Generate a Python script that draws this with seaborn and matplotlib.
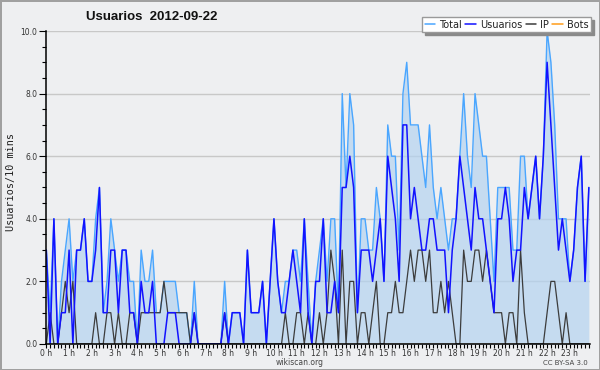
import numpy as np
import pandas as pd
import matplotlib
matplotlib.use("Agg")
import matplotlib.pyplot as plt
from matplotlib.lines import Line2D
from matplotlib.ticker import MultipleLocator, FixedLocator, FormatStrFormatter
import seaborn as sns

# --- data: one value every 10 minutes, 2012-09-22 ---
usuarios = [3, 0, 4, 0, 1, 1, 3, 0, 3, 3,
            4, 2, 2, 3, 5, 1, 1, 3, 3, 1,
            3, 3, 1, 1, 0, 2, 1, 1, 2, 0,
            0, 0, 1, 1, 1, 0, 0, 0, 0, 1,
            0, 0, 0, 0, 0, 0, 0, 1, 0, 1,
            1, 1, 0, 3, 1, 1, 1, 2, 0, 2,
            4, 2, 1, 1, 2, 3, 2, 1, 4, 1,
            0, 2, 2, 4, 1, 1, 2, 1, 5, 5,
            6, 5, 1, 3, 3, 3, 2, 3, 4, 2,
            6, 5, 4, 2, 7, 7, 4, 5, 4, 3,
            3, 4, 4, 3, 3, 3, 1, 3, 4, 6,
            5, 4, 3, 5, 4, 4, 3, 2, 1, 4,
            4, 5, 4, 2, 3, 3, 5, 4, 5, 6,
            4, 6, 9, 7, 5, 3, 4, 3, 2, 3,
            5, 6, 2, 5]

ip = [0, 1, 0, 0, 1, 2, 1, 2, 0, 0,
      0, 0, 0, 1, 0, 0, 1, 1, 0, 1,
      0, 0, 1, 1, 0, 1, 1, 1, 1, 1,
      1, 2, 1, 1, 1, 1, 1, 1, 0, 1,
      0, 0, 0, 0, 0, 0, 0, 1, 0, 0,
      0, 0, 0, 0, 0, 0, 0, 0, 0, 0,
      0, 0, 0, 1, 0, 0, 1, 1, 0, 1,
      0, 0, 1, 0, 1, 3, 2, 0, 3, 0,
      2, 2, 0, 1, 1, 0, 1, 2, 0, 0,
      1, 1, 2, 1, 1, 2, 3, 2, 3, 3,
      2, 3, 1, 1, 2, 1, 2, 1, 0, 0,
      3, 2, 2, 3, 3, 2, 3, 2, 1, 1,
      1, 0, 1, 1, 0, 3, 1, 0, 0, 0,
      0, 0, 1, 2, 2, 1, 0, 1, 0, 0,
      0, 0, 0, 0]

total = [3, 1, 4, 0, 2, 3, 4, 2, 3, 3,
         4, 2, 2, 4, 5, 1, 2, 4, 3, 2,
         3, 3, 2, 2, 0, 3, 2, 2, 3, 1,
         1, 2, 2, 2, 2, 1, 1, 1, 0, 2,
         0, 0, 0, 0, 0, 0, 0, 2, 0, 1,
         1, 1, 0, 3, 1, 1, 1, 2, 0, 2,
         4, 2, 1, 2, 2, 3, 3, 2, 4, 2,
         0, 2, 3, 4, 2, 4, 4, 1, 8, 5,
         8, 7, 1, 4, 4, 3, 3, 5, 4, 2,
         7, 6, 6, 3, 8, 9, 7, 7, 7, 6,
         5, 7, 5, 4, 5, 4, 3, 4, 4, 6,
         8, 6, 5, 8, 7, 6, 6, 4, 2, 5,
         5, 5, 5, 3, 3, 6, 6, 4, 5, 6,
         4, 6, 10, 9, 7, 4, 4, 4, 2, 3,
         5, 6, 2, 5]

bots = [0] * 144

series_names = ["Total", "Usuarios", "IP", "Bots"]
hour_labels = [f"{h} h" for h in range(24)]

steps = np.arange(len(total))
df = pd.DataFrame({"paso": steps, "Total": total, "Usuarios": usuarios,
                   "IP": ip, "Bots": bots})

# --- style ---
sns.set_theme(style="white")
plt.rcParams["font.family"] = ["DejaVu Sans"]

bg = "#eeeff1"
colors = {"Total": "#4aa6ff", "Usuarios": "#1212ff", "IP": "#3c3c3c", "Bots": "#ff9c1a"}
widths = {"Total": 1.0, "Usuarios": 1.1, "IP": 0.9, "Bots": 1.0}

fig = plt.figure(figsize=(6, 3.7), dpi=100, facecolor=bg,
                 edgecolor="#a0a0a0", linewidth=2)
ax = fig.add_axes([0.0772, 0.0703, 0.9061, 0.8459])
ax.set_facecolor(bg)

ax.fill_between(steps, total, color="#b4d3f0", alpha=0.7, lw=0, zorder=1)
for name in ["Bots", "Total", "IP", "Usuarios"]:
    sns.lineplot(data=df, x="paso", y=name, color=colors[name],
                 linewidth=widths[name], ax=ax, zorder=2)

ax.set_xlim(0, 143.3)
ax.set_ylim(0, 10)

ax.yaxis.set_major_locator(MultipleLocator(2))
ax.yaxis.set_minor_locator(MultipleLocator(0.5))
ax.yaxis.set_major_formatter(FormatStrFormatter("%.1f"))
ax.xaxis.set_major_locator(FixedLocator(np.arange(24) * 6))
ax.xaxis.set_minor_locator(MultipleLocator(1))
ax.set_xticklabels(hour_labels)

ax.tick_params(axis="both", which="both", direction="out", color="black",
               width=0.8, labelsize=5.5, labelcolor="#333333")
ax.tick_params(axis="y", which="major", length=5, pad=1.5)
ax.tick_params(axis="y", which="minor", length=3)
ax.tick_params(axis="x", which="major", length=3, pad=0.3)
ax.tick_params(axis="x", which="minor", length=3)
ax.tick_params(axis="both", which="both", bottom=True, left=True)

ax.grid(axis="y", which="major", color="#c8c8c8", linewidth=1)
ax.set_axisbelow(True)

for side in ["top", "right"]:
    ax.spines[side].set_visible(False)
for side in ["left", "bottom"]:
    ax.spines[side].set_color("black")
    ax.spines[side].set_linewidth(1.1)

ax.set_xlabel("")
ax.set_ylabel("")

fig.text(0.018, 0.508, "Usuarios/10 mins", rotation=90, ha="center", va="center",
         fontsize=7.3, family="DejaVu Sans Mono", color="#222222")
fig.text(0.252, 0.954, "Usuarios  2012-09-22", ha="center", va="center",
         fontsize=9.5, fontweight="bold", family="Liberation Sans", color="#111111")
fig.text(0.5, 0.02, "wikiscan.org", ha="center", va="center",
         fontsize=5.5, color="#444444")
fig.text(0.942, 0.02, "CC BY-SA 3.0", ha="center", va="center",
         fontsize=5, color="#444444")

handles = [Line2D([0], [0], color=colors[n], lw=1.1) for n in series_names]
leg = ax.legend(handles, series_names, ncol=4, loc="upper right",
                bbox_to_anchor=(0.985, 0.953), bbox_transform=fig.transFigure,
                frameon=True, fancybox=False, framealpha=1, facecolor="white",
                edgecolor="#9a9a9a", fontsize=7, handlelength=1.1,
                handletextpad=0.4, columnspacing=0.35, borderpad=0.25,
                borderaxespad=0,
                shadow={"facecolor": "#8a8a8a", "edgecolor": "#8a8a8a", "alpha": 1})
for t in leg.get_texts():
    t.set_color("#222222")

fig.savefig("out.png", dpi=100, facecolor=bg)
